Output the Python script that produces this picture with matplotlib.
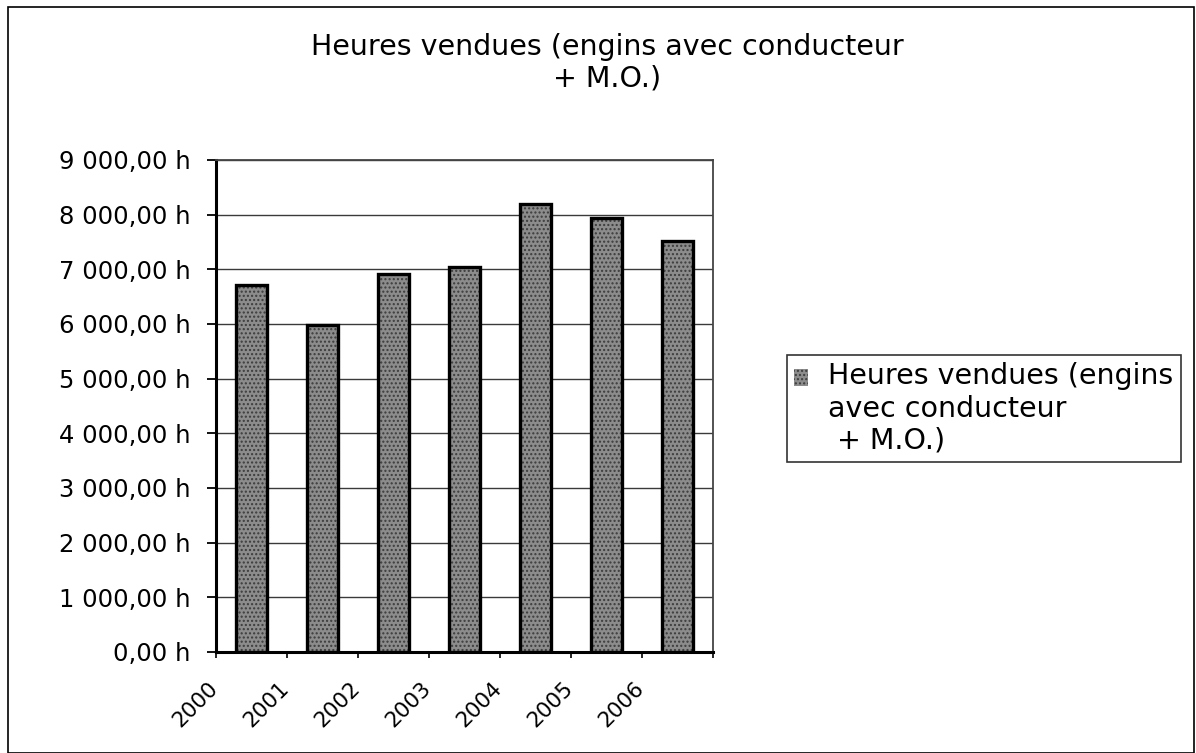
"""Heures vendues (engins avec conducteur + M.O.) — bar chart, 2000-2006."""

import matplotlib

matplotlib.use("Agg")
import matplotlib.pyplot as plt
import numpy as np
from matplotlib.legend_handler import HandlerPatch
from matplotlib.patches import Rectangle
from matplotlib.ticker import FuncFormatter, MultipleLocator

# Data
years = ["2000", "2001", "2002", "2003", "2004", "2005", "2006"]
hours = [6710, 5990, 6910, 7045, 8190, 7930, 7520]
y_max = 9000
y_step = 1000

title = "Heures vendues (engins avec conducteur\n+ M.O.)"
series_label = "Heures vendues (engins\navec conducteur\n + M.O.)"

plt.rcParams["font.family"] = ["DejaVu Sans"]

W, H = 1196, 753
fig = plt.figure(figsize=(W / 100, H / 100), dpi=100)
fig.patch.set_facecolor("white")

# plot area in pixels: x 216..713, y 160..652
ax = fig.add_axes([216 / W, 1 - 652 / H, (713 - 216) / W, (652 - 160) / H])

x = np.arange(len(years))
bar_w = 0.445

# speckled grey fill, then a black outline on top
fill = ax.bar(x, hours, bar_w, color="#8c8c8c", hatch="....",
              edgecolor="#3c3c3c", linewidth=0, zorder=3)
ax.bar(x, hours, bar_w, fill=False, edgecolor="black", linewidth=2.4, zorder=4)

ax.set_xlim(-0.5, len(years) - 0.5)
ax.set_ylim(0, y_max)

# y axis
ax.yaxis.set_major_locator(MultipleLocator(y_step))
ax.yaxis.set_major_formatter(FuncFormatter(
    lambda v, _: f"{v:,.2f}".replace(",", " ").replace(".", ",") + " h"))
ax.tick_params(axis="y", length=6.5, width=1.3, pad=12, labelsize=17.5,
               direction="out", colors="black")
ax.grid(axis="y", color="#3a3a3a", linewidth=1.0, zorder=1)

# x axis: marks at category boundaries, labels shifted like Excel
ax.set_xticks(np.arange(len(years) + 1) - 0.5, minor=True)
ax.set_xticks(x - 0.415)
ax.set_xticklabels(years, rotation=45, ha="right", va="top")
ax.tick_params(axis="x", which="major", length=0, pad=19, labelsize=15.5)
ax.tick_params(axis="x", which="minor", length=4, width=1.2, direction="out")

for side in ("left", "bottom"):
    ax.spines[side].set_linewidth(2.2)
    ax.spines[side].set_color("black")
for side in ("top", "right"):
    ax.spines[side].set_linewidth(1.3)
    ax.spines[side].set_color("#444444")

fig.text(607 / W, 1 - 63 / H, title, ha="center", va="center",
         multialignment="center", fontsize=20.5, linespacing=1.15)


def top_swatch(legend, orig_handle, xdescent, ydescent, width, height, fontsize):
    # put the swatch beside the first line of the three-line label
    return Rectangle((-xdescent, -ydescent + 1.12 * fontsize), width, height)


leg_fs = 20.5
leg = fig.legend([fill.patches[0]], [series_label], loc="upper left",
                 bbox_to_anchor=(787 / W, 1 - 355 / H),
                 bbox_transform=fig.transFigure, fontsize=leg_fs, frameon=True,
                 fancybox=False, shadow=False, handlelength=0.5,
                 handleheight=0.5, handletextpad=0.7, borderpad=0.25,
                 borderaxespad=0, labelspacing=0.1,
                 handler_map={Rectangle: HandlerPatch(patch_func=top_swatch)})
leg.get_frame().set_edgecolor("black")
leg.get_frame().set_linewidth(1.2)

# outer chart frame
fig.add_artist(Rectangle((8 / W, 0), (1194 - 8) / W, 1 - 7 / H,
                         transform=fig.transFigure, fill=False,
                         edgecolor="black", linewidth=1.2))

fig.savefig("out.png", dpi=100)
